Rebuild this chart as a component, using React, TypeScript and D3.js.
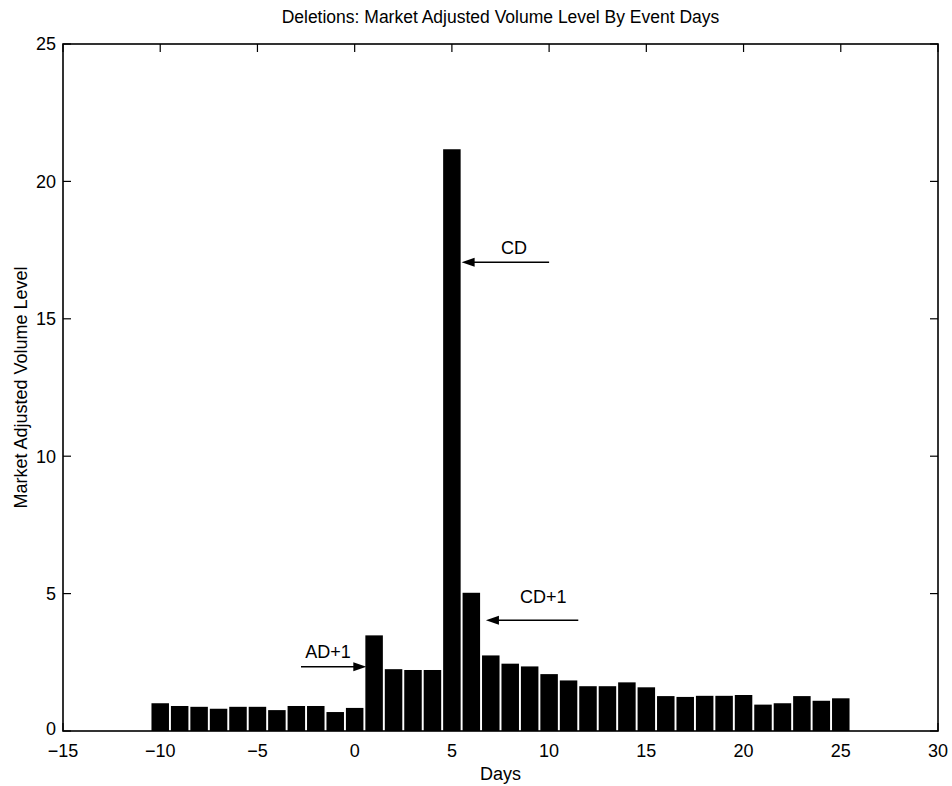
import React, { useEffect, useRef } from 'react';
import * as d3 from 'd3';

const days = [
  -10, -9, -8, -7, -6, -5, -4, -3, -2, -1, 0, 1, 2, 3, 4, 5, 6, 7,
  8, 9, 10, 11, 12, 13, 14, 15, 16, 17, 18, 19, 20, 21, 22, 23, 24, 25,
];
const volumeLevel = [
  1.01, 0.91, 0.88, 0.81, 0.88, 0.88, 0.76, 0.91, 0.91, 0.69, 0.84, 3.48, 2.25, 2.22, 2.22, 21.17, 5.03, 2.75,
  2.45, 2.35, 2.07, 1.84, 1.63, 1.63, 1.77, 1.59, 1.27, 1.24, 1.28, 1.28, 1.31, 0.96, 1.01, 1.27, 1.1, 1.19,
];
const xTicks = [-15, -10, -5, 0, 5, 10, 15, 20, 25, 30];
const yTicks = [0, 5, 10, 15, 20, 25];

// annotations: label, label position, arrow tail -> head (data units)
const notes = [
  { label: 'CD', lx: 8.2, ly: 17.6, x1: 10, y1: 17.06, x2: 5.5, y2: 17.06 },
  { label: 'CD+1', lx: 9.7, ly: 4.9, x1: 11.5, y1: 4.03, x2: 6.75, y2: 4.03 },
  { label: 'AD+1', lx: -1.37, ly: 2.9, x1: -2.76, y1: 2.34, x2: 0.6, y2: 2.34 },
];

const W = 952;
const H = 786;
const M = { left: 63, right: 14, top: 44, bottom: 55 };
const FONT = '"Liberation Sans", Arial, sans-serif';

export default function App() {
  const svgRef = useRef<SVGSVGElement | null>(null);

  useEffect(() => {
    if (!svgRef.current) return;
    const svg = d3.select(svgRef.current);
    svg.selectAll('*').remove();

    const x = d3.scaleLinear().domain([-15, 30]).range([M.left, W - M.right]);
    const y = d3.scaleLinear().domain([0, 25]).range([H - M.bottom, M.top]);
    const bw = (x(1) - x(0)) * 0.9;
    const fmt = (v: number) => (v < 0 ? '\u2212' + Math.abs(v) : String(v));

    const g = svg.append('g').attr('font-family', FONT);

    g.append('g')
      .selectAll('rect')
      .data(days)
      .join('rect')
      .attr('x', (d) => x(d) - bw / 2)
      .attr('width', bw)
      .attr('y', (d, i) => y(volumeLevel[i]))
      .attr('height', (d, i) => y(0) - y(volumeLevel[i]))
      .attr('fill', '#000');

    // frame
    g.append('rect')
      .attr('x', x(-15))
      .attr('y', y(25))
      .attr('width', x(30) - x(-15))
      .attr('height', y(0) - y(25))
      .attr('fill', 'none')
      .attr('stroke', '#000')
      .attr('stroke-width', 1.6);

    const tl = 8;
    xTicks.forEach((t) => {
      g.append('line').attr('x1', x(t)).attr('x2', x(t)).attr('y1', y(0)).attr('y2', y(0) - tl).attr('stroke', '#000').attr('stroke-width', 1.2);
      g.append('line').attr('x1', x(t)).attr('x2', x(t)).attr('y1', y(25)).attr('y2', y(25) + tl).attr('stroke', '#000').attr('stroke-width', 1.2);
      g.append('text')
        .attr('x', x(t))
        .attr('y', y(0) + 26)
        .attr('text-anchor', 'middle')
        .attr('font-size', 18)
        .text(fmt(t));
    });
    yTicks.forEach((t) => {
      g.append('line').attr('x1', x(-15)).attr('x2', x(-15) + tl).attr('y1', y(t)).attr('y2', y(t)).attr('stroke', '#000').attr('stroke-width', 1.2);
      g.append('line').attr('x1', x(30)).attr('x2', x(30) - tl).attr('y1', y(t)).attr('y2', y(t)).attr('stroke', '#000').attr('stroke-width', 1.2);
      g.append('text')
        .attr('x', x(-15) - 7)
        .attr('y', y(t) - (t === 0 ? 2 : 0))
        .attr('dy', '0.35em')
        .attr('text-anchor', 'end')
        .attr('font-size', 18)
        .text(fmt(t));
    });

    // annotations
    notes.forEach((n) => {
      const dir = Math.sign(x(n.x2) - x(n.x1));
      const hx = x(n.x2);
      const hy = y(n.y2);
      g.append('line')
        .attr('x1', x(n.x1))
        .attr('y1', y(n.y1))
        .attr('x2', hx - dir * 10)
        .attr('y2', hy)
        .attr('stroke', '#000')
        .attr('stroke-width', 1.4);
      g.append('path')
        .attr('d', `M${hx},${hy} L${hx - dir * 13},${hy - 4.5} L${hx - dir * 13},${hy + 4.5} Z`)
        .attr('fill', '#000');
      g.append('text')
        .attr('x', x(n.lx))
        .attr('y', y(n.ly))
        .attr('dy', '0.35em')
        .attr('text-anchor', 'middle')
        .attr('font-size', 18)
        .text(n.label);
    });

    g.append('text')
      .attr('x', (x(-15) + x(30)) / 2)
      .attr('y', 23)
      .attr('text-anchor', 'middle')
      .attr('font-size', 17.5)
      .text('Deletions: Market Adjusted Volume Level By Event Days');

    g.append('text')
      .attr('x', (x(-15) + x(30)) / 2)
      .attr('y', 780)
      .attr('text-anchor', 'middle')
      .attr('font-size', 18)
      .text('Days');

    g.append('text')
      .attr('transform', `translate(27,${(y(0) + y(25)) / 2}) rotate(-90)`)
      .attr('text-anchor', 'middle')
      .attr('font-size', 18)
      .text('Market Adjusted Volume Level');
  }, []);

  return (
    <svg
      ref={svgRef}
      width={W}
      height={H}
      style={{ position: 'absolute', left: 0, top: 0, background: '#fff' }}
    />
  );
}
